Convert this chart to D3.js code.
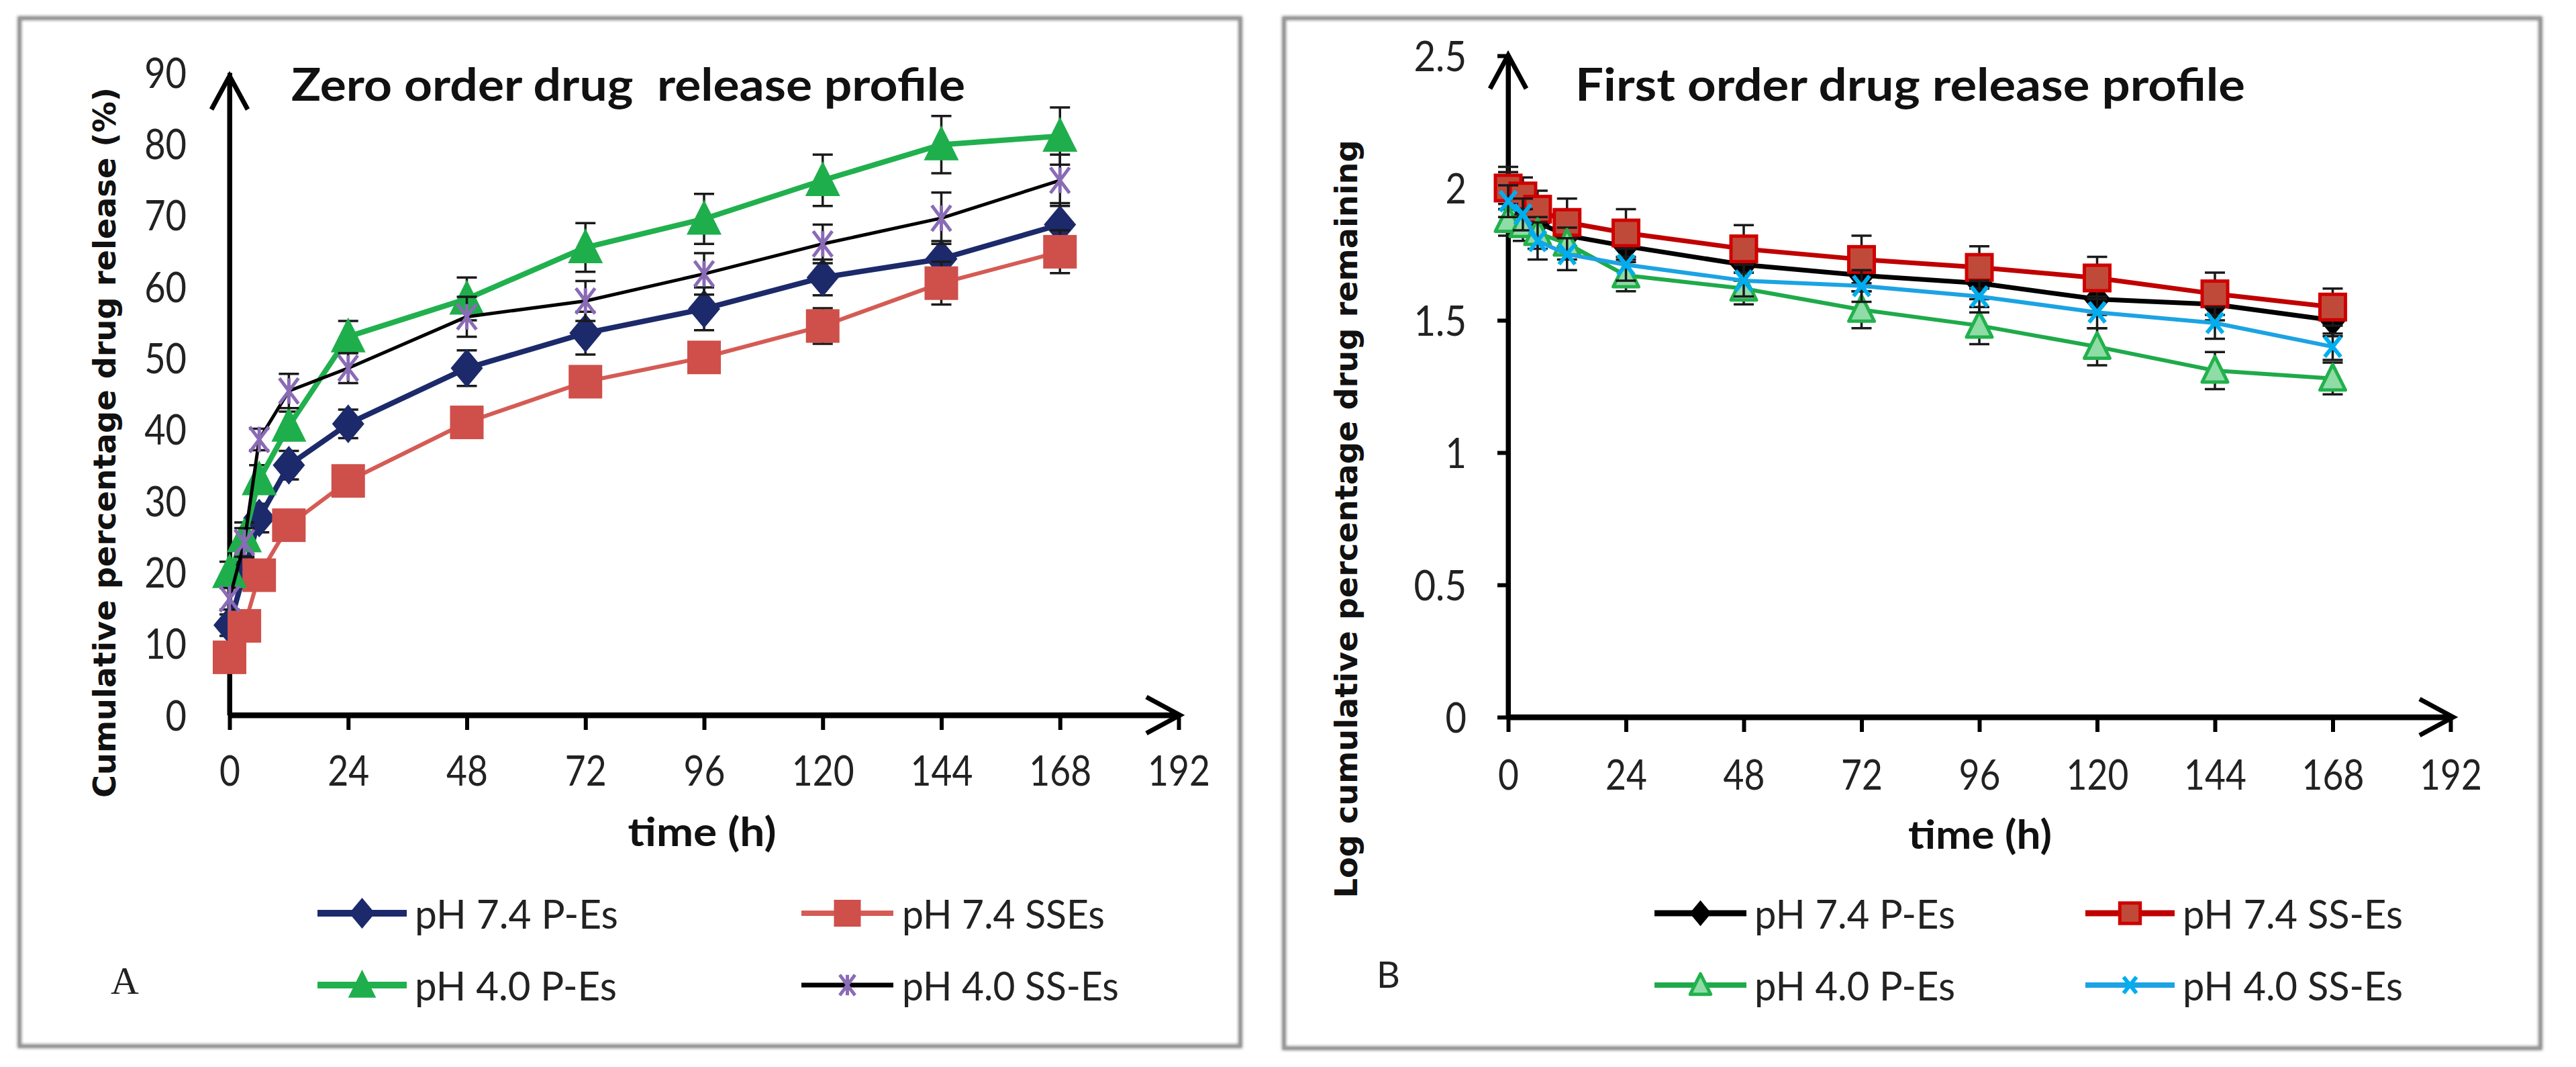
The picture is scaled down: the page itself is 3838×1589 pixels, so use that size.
<!DOCTYPE html>
<html><head><meta charset="utf-8">
<script src="https://cdn.jsdelivr.net/npm/d3@7"></script>
<style>body{margin:0;background:#fff}svg{display:block}</style>
</head><body>
<script>
// ---------- DATA ----------
const times = [0, 3, 6, 12, 24, 48, 72, 96, 120, 144, 168];
const xTicks = [0, 24, 48, 72, 96, 120, 144, 168, 192];
const yTicksA = [0, 10, 20, 30, 40, 50, 60, 70, 80, 90];
const yTicksB = [0, 0.5, 1, 1.5, 2, 2.5];

// Panel A: zero order (cumulative % released)
const zeroNames = ["pH 7.4 P-Es", "pH 7.4 SSEs", "pH 4.0 P-Es", "pH 4.0 SS-Es"];
const zero74P  = [12.6, 20.0, 27.6, 35.0, 40.8, 48.6, 53.5, 56.9, 61.3, 63.9, 68.7];
const zero74SS = [8.1, 12.5, 19.6, 26.6, 32.8, 41.0, 46.7, 50.1, 54.5, 60.5, 64.9];
const zero40P  = [20.0, 25.0, 33.0, 40.5, 53.0, 58.3, 65.5, 69.5, 74.9, 79.9, 81.1];
const zero40SS = [16.3, 24.2, 38.6, 45.4, 48.6, 55.8, 58.0, 61.8, 66.0, 69.6, 74.9];
const zero74Perr  = [1.5, 2.0, 2.0, 2.0, 2.0, 2.5, 3.0, 3.0, 2.5, 2.5, 3.0];
const zero74SSerr = [1.5, 1.5, 1.5, 1.5, 2.0, 2.0, 2.0, 2.0, 2.5, 3.0, 3.0];
const zero40Perr  = [1.5, 2.0, 2.0, 2.0, 2.2, 3.0, 3.4, 3.5, 3.6, 4.0, 4.0];
const zero40SSerr = [1.5, 2.0, 1.5, 2.4, 2.1, 2.8, 2.8, 2.9, 2.7, 3.6, 3.6];

// Panel B: first order (log cumulative % remaining)
const firstNames = ["pH 7.4 P-Es", "pH 7.4 SS-Es", "pH 4.0 P-Es", "pH 4.0 SS-Es"];
const first74P  = [1.99, 1.93, 1.87, 1.82, 1.78, 1.71, 1.67, 1.64, 1.58, 1.56, 1.50];
const first74SS = [2.00, 1.97, 1.92, 1.87, 1.83, 1.77, 1.73, 1.70, 1.66, 1.60, 1.55];
const first40P  = [1.88, 1.86, 1.83, 1.79, 1.67, 1.62, 1.54, 1.48, 1.40, 1.31, 1.28];
const first40SS = [1.95, 1.90, 1.80, 1.75, 1.71, 1.65, 1.63, 1.59, 1.53, 1.49, 1.40];
const first74Perr  = [0.07, 0.06, 0.06, 0.06, 0.06, 0.06, 0.06, 0.06, 0.06, 0.06, 0.06];
const first74SSerr = [0.08, 0.07, 0.07, 0.09, 0.09, 0.09, 0.09, 0.08, 0.08, 0.08, 0.07];
const first40Perr  = [0.06, 0.06, 0.06, 0.06, 0.06, 0.06, 0.07, 0.07, 0.07, 0.07, 0.06];
const first40SSerr = [0.06, 0.06, 0.07, 0.06, 0.06, 0.06, 0.06, 0.06, 0.06, 0.06, 0.05];

// ---------- HELPERS ----------
const W = 3838, H = 1589;
const svg = d3.select("body").append("svg").attr("width", W).attr("height", H);
svg.append("rect").attr("width", W).attr("height", H).attr("fill", "#fff");

const FONT = "Lato, 'Open Sans', sans-serif";
// Calibri-like advance widths (em) for fitting text widths
const cwTable = {"0":.507,"1":.507,"2":.507,"3":.507,"4":.507,"5":.507,"6":.507,"7":.507,"8":.507,"9":.507,".":.252," ":.226};
function cw(s){ let w=0; for (const c of String(s)) w += (cwTable[c]||.5); return w; }

const defs = svg.append("defs");
const f = defs.append("filter").attr("id","shadow").attr("x","-5%").attr("y","-5%").attr("width","110%").attr("height","110%");
f.append("feGaussianBlur").attr("stdDeviation", 2.2);

function frame(x0,y0,x1,y1){
  svg.append("rect").attr("x",x0).attr("y",y0).attr("width",x1-x0).attr("height",y1-y0)
    .attr("fill","none").attr("stroke","#8a8a8a").attr("stroke-width",6).attr("filter","url(#shadow)");
  svg.append("rect").attr("x",x0).attr("y",y0).attr("width",x1-x0).attr("height",y1-y0)
    .attr("fill","none").attr("stroke","#9a9a9a").attr("stroke-width",3);
}

function marker(g, type, cx, cy, st){
  const s = st.size;
  if (type==="diamond"){
    g.append("path").attr("d",`M${cx},${cy-s*0.6}L${cx+s*0.5},${cy}L${cx},${cy+s*0.6}L${cx-s*0.5},${cy}Z`)
      .attr("fill",st.fill).attr("stroke",st.stroke||"none").attr("stroke-width",st.sw||0);
  } else if (type==="square"){
    g.append("rect").attr("x",cx-s/2).attr("y",cy-s/2).attr("width",s).attr("height",s)
      .attr("fill",st.fill).attr("stroke",st.stroke||"none").attr("stroke-width",st.sw||0);
  } else if (type==="triangle"){
    g.append("path").attr("d",`M${cx},${cy-s*0.55}L${cx+s*0.5},${cy+s*0.45}L${cx-s*0.5},${cy+s*0.45}Z`)
      .attr("fill",st.fill).attr("stroke",st.stroke||"none").attr("stroke-width",st.sw||0).attr("stroke-linejoin","round");
  } else if (type==="star"){
    const h=s/2;
    g.append("path").attr("d",`M${cx-h*0.75},${cy-h}L${cx+h*0.75},${cy+h}M${cx+h*0.75},${cy-h}L${cx-h*0.75},${cy+h}M${cx},${cy-h}L${cx},${cy+h}`)
      .attr("stroke",st.stroke).attr("stroke-width",st.sw).attr("fill","none");
  } else if (type==="x"){
    const h=s/2;
    g.append("path").attr("d",`M${cx-h*0.8},${cy-h}L${cx+h*0.8},${cy+h}M${cx+h*0.8},${cy-h}L${cx-h*0.8},${cy+h}`)
      .attr("stroke",st.stroke).attr("stroke-width",st.sw).attr("fill","none");
  }
}

function drawPanel(cfg){
  const {x, y, series, yTicks, yTickSize, yPad, xArrowTip, yArrowTip} = cfg;
  const g = svg.append("g");
  // x axis
  const xa = g.append("g").attr("transform",`translate(0,${y(0)})`)
    .call(d3.axisBottom(x).tickValues(xTicks).tickSizeInner(22).tickSizeOuter(0).tickPadding(8).tickFormat(d=>d));
  xa.select(".domain").attr("stroke","#000").attr("stroke-width",8);
  xa.selectAll(".tick line").attr("stroke","#000").attr("stroke-width",6);
  xa.selectAll(".tick text").attr("font-family",FONT).attr("font-size",62).attr("fill","#222")
    .attr("y", cfg.xLabelBase - y(0)).attr("dy",0)
    .each(function(d){ d3.select(this).attr("textLength", cw(d)*61).attr("lengthAdjust","spacingAndGlyphs"); });
  // y axis
  const ya = g.append("g").attr("transform",`translate(${x(0)},0)`)
    .call(d3.axisLeft(y).tickValues(yTicks).tickSizeInner(yTickSize).tickSizeOuter(0).tickPadding(yPad).tickFormat(d=>d));
  ya.select(".domain").attr("stroke","#000").attr("stroke-width",7);
  ya.selectAll(".tick line").attr("stroke","#000").attr("stroke-width",6);
  ya.selectAll(".tick text").attr("font-family",FONT).attr("font-size",62).attr("fill","#222").attr("dy","0.36em")
    .each(function(d){ d3.select(this).attr("textLength", cw(d)*62).attr("lengthAdjust","spacingAndGlyphs"); });
  // arrows
  const ax = x(0);
  g.append("path").attr("d",`M${ax},${y(0)}L${ax},${yArrowTip}`).attr("stroke","#000").attr("stroke-width",7);
  g.append("path").attr("d",`M${ax-27},${yArrowTip+50}L${ax},${yArrowTip}L${ax+27},${yArrowTip+50}`)
    .attr("stroke","#000").attr("stroke-width",7).attr("fill","none").attr("stroke-linejoin","miter");
  g.append("path").attr("d",`M${x(0)},${y(0)}L${xArrowTip},${y(0)}`).attr("stroke","#000").attr("stroke-width",8);
  g.append("path").attr("d",`M${xArrowTip-50},${y(0)-27}L${xArrowTip},${y(0)}L${xArrowTip-50},${y(0)+27}`)
    .attr("stroke","#000").attr("stroke-width",7).attr("fill","none");

  // series
  series.forEach(s => {
    const pts = times.map((t,i)=>({t, v:s.values[i], e:s.err[i]}));
    const sg = g.append("g");
    pts.forEach(p=>{
      const cx=x(p.t), y1=y(p.v+p.e), y2=y(p.v-p.e);
      sg.append("path").attr("d",`M${cx},${y1}L${cx},${y2}M${cx-15},${y1}L${cx+15},${y1}M${cx-15},${y2}L${cx+15},${y2}`)
        .attr("stroke","#1a1a1a").attr("stroke-width",3.5).attr("fill","none");
    });
    sg.append("path").datum(pts)
      .attr("d", d3.line().x(p=>x(p.t)).y(p=>y(p.v)))
      .attr("fill","none").attr("stroke",s.line).attr("stroke-width",s.lw).attr("stroke-linejoin","round");
    pts.forEach(p=> marker(sg, s.type, x(p.t), y(p.v), s.m));
  });

  // legend
  cfg.legend.forEach((L,i)=>{
    const s = series[i];
    const lg = g.append("g");
    lg.append("line").attr("x1",L.x1).attr("x2",L.x2).attr("y1",L.y).attr("y2",L.y)
      .attr("stroke",s.line).attr("stroke-width",s.lw+2);
    marker(lg, s.type, (L.x1+L.x2)/2, L.y, Object.assign({}, s.m, {size:s.m.size*0.8}));
    lg.append("text").attr("x",L.tx).attr("y",L.y+23).attr("font-family",FONT).attr("font-size",60)
      .attr("fill","#222").attr("textLength",L.tw).attr("lengthAdjust","spacingAndGlyphs").text(s.name);
  });

  // titles
  g.append("text").attr("x",cfg.title.x).attr("y",cfg.title.y).attr("font-family",FONT).attr("font-weight","bold")
    .attr("font-size",66).attr("fill","#111").attr("textLength",cfg.title.w).attr("lengthAdjust","spacingAndGlyphs")
    .attr("xml:space","preserve").text(cfg.title.text);
  g.append("text").attr("x",cfg.xTitle.x).attr("y",cfg.xTitle.y).attr("text-anchor","middle").attr("font-family",FONT)
    .attr("font-weight","bold").attr("font-size",60).attr("fill","#111")
    .attr("textLength",cfg.xTitle.w).attr("lengthAdjust","spacingAndGlyphs").text("time (h)");
  g.append("text").attr("transform",`translate(${cfg.yTitle.x},${cfg.yTitle.y}) rotate(-90)`).attr("text-anchor","middle")
    .attr("dy","0.36em").attr("font-family","'DejaVu Sans', sans-serif").attr("font-weight","bold").attr("font-size",47)
    .attr("fill","#111").attr("textLength",cfg.yTitle.w).attr("lengthAdjust","spacingAndGlyphs").text(cfg.yTitle.text);
  g.append("text").attr("x",cfg.tag.x).attr("y",cfg.tag.y).attr("font-family",cfg.tag.font)
    .attr("font-size",cfg.tag.size).attr("fill","#222").text(cfg.tag.text);
}

// ---------- PANELS ----------
frame(29,27,1848,1558);
frame(1913,27,3785,1561);

const xA = d3.scaleLinear().domain([0,192]).range([342,1756]);
const yA = d3.scaleLinear().domain([0,90]).range([1065,108]);
const xB = d3.scaleLinear().domain([0,192]).range([2247,3651]);
const yB = d3.scaleLinear().domain([0,2.5]).range([1068,83]);

drawPanel({
  x:xA, y:yA, yTicks:yTicksA, yTickSize:0, yPad:64, xArrowTip:1758, yArrowTip:113, xLabelBase:1170,
  series:[
    {name:zeroNames[0], values:zero74P,  err:zero74Perr,  line:"#1c2a6b", lw:8, type:"diamond", m:{size:48, fill:"#1c2a6b"}},
    {name:zeroNames[1], values:zero74SS, err:zero74SSerr, line:"#d55b55", lw:6, type:"square",  m:{size:50, fill:"#cf4f4a"}},
    {name:zeroNames[2], values:zero40P,  err:zero40Perr,  line:"#21b04e", lw:8, type:"triangle",m:{size:52, fill:"#1fae4c"}},
    {name:zeroNames[3], values:zero40SS, err:zero40SSerr, line:"#000000", lw:5, type:"star",    m:{size:38, stroke:"#8a6bb5", sw:5}}
  ],
  legend:[
    {x1:473, x2:606, y:1360, tx:618,  tw:303},
    {x1:1194,x2:1331,y:1360, tx:1344, tw:302},
    {x1:473, x2:606, y:1467, tx:618,  tw:301},
    {x1:1194,x2:1331,y:1467, tx:1344, tw:323}
  ],
  title:{x:434, y:150, w:1004, text:"Zero order drug  release profile"},
  xTitle:{x:1046, y:1260, w:221},
  yTitle:{x:155, y:659, w:1058, text:"Cumulative percentage drug release (%)"},
  tag:{x:165, y:1480, text:"A", font:"'Liberation Serif', 'DejaVu Serif', serif", size:58}
});

drawPanel({
  x:xB, y:yB, yTicks:yTicksB, yTickSize:16, yPad:46, xArrowTip:3655, yArrowTip:82, xLabelBase:1176,
  series:[
    {name:firstNames[0], values:first74P,  err:first74Perr,  line:"#000000", lw:7, type:"diamond", m:{size:40, fill:"#000"}},
    {name:firstNames[1], values:first74SS, err:first74SSerr, line:"#c00000", lw:7, type:"square",  m:{size:38, fill:"#c04a3a", stroke:"#d00000", sw:5}},
    {name:firstNames[2], values:first40P,  err:first40Perr,  line:"#1faa4a", lw:6, type:"triangle",m:{size:38, fill:"#8fdca6", stroke:"#22b14c", sw:5}},
    {name:firstNames[3], values:first40SS, err:first40SSerr, line:"#1ba3e3", lw:6, type:"x",       m:{size:30, stroke:"#00aef0", sw:6}}
  ],
  legend:[
    {x1:2465,x2:2602,y:1360, tx:2614, tw:299},
    {x1:3107,x2:3240,y:1360, tx:3252, tw:328},
    {x1:2465,x2:2602,y:1467, tx:2614, tw:299},
    {x1:3107,x2:3240,y:1467, tx:3252, tw:328}
  ],
  title:{x:2347, y:150, w:998, text:"First order drug release profile"},
  xTitle:{x:2950, y:1264, w:214},
  yTitle:{x:2005, y:773, w:1129, text:"Log cumulative percentage drug remaining"},
  tag:{x:2051, y:1471, text:"B", font:FONT, size:54}
});
</script>
</body></html>
